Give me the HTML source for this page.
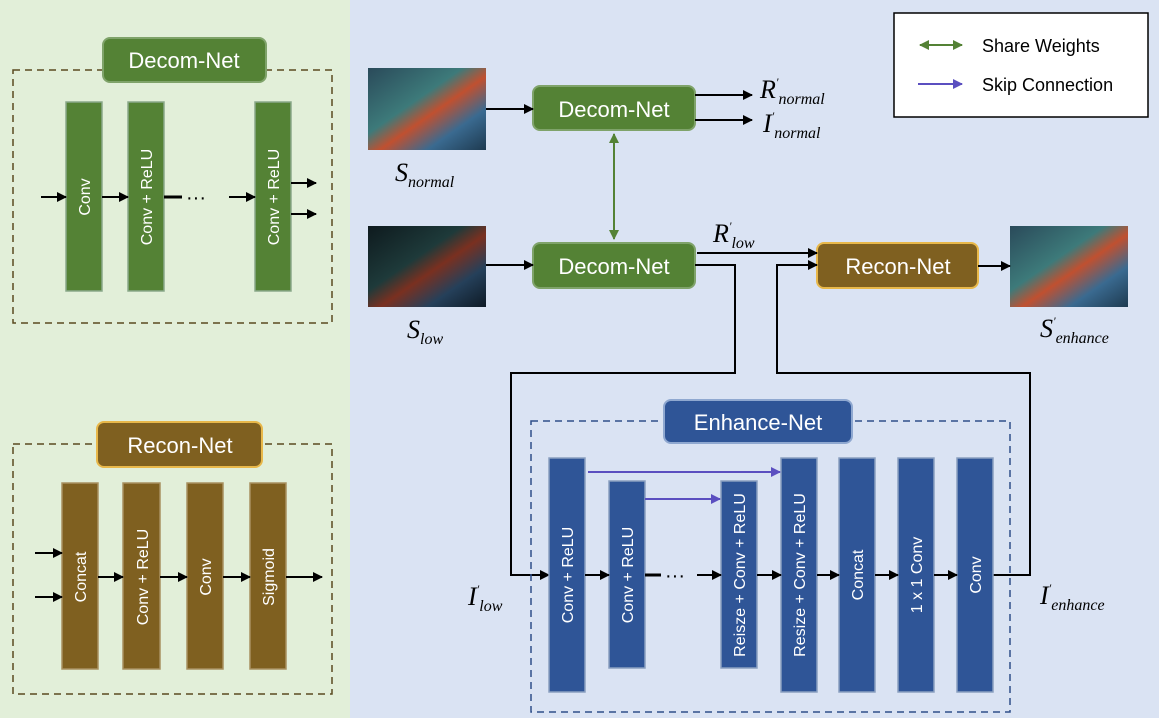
<!DOCTYPE html>
<html><head><style>body{margin:0}svg{display:block}</style></head><body>
<svg width="1159" height="718" viewBox="0 0 1159 718" xmlns="http://www.w3.org/2000/svg" font-family="Liberation Sans, Arial, sans-serif">
<defs>
<marker id="a" viewBox="0 0 10 10" refX="9" refY="5" markerWidth="5" markerHeight="5" orient="auto"><path d="M0,0L10,5L0,10z" fill="#000"/></marker>
<marker id="ab" viewBox="0 0 10 10" refX="9" refY="5" markerWidth="5" markerHeight="5" orient="auto"><path d="M0,0L10,5L0,10z" fill="#5b4fc0"/></marker>
<marker id="ag" viewBox="0 0 10 10" refX="9" refY="5" markerWidth="5" markerHeight="5" orient="auto-start-reverse"><path d="M0,0L10,5L0,10z" fill="#548235"/></marker>
<linearGradient id="img1" x1="0" y1="0" x2="1" y2="1"><stop offset="0" stop-color="#2a4a5a"/><stop offset="0.4" stop-color="#3d7a7a"/><stop offset="0.55" stop-color="#c05030"/><stop offset="0.75" stop-color="#3a6a90"/><stop offset="1" stop-color="#1e3a50"/></linearGradient>
<linearGradient id="img2" x1="0" y1="0" x2="1" y2="1"><stop offset="0" stop-color="#0e1a1e"/><stop offset="0.4" stop-color="#1e3a3a"/><stop offset="0.55" stop-color="#7a3020"/><stop offset="0.75" stop-color="#25405a"/><stop offset="1" stop-color="#0e1a25"/></linearGradient>
</defs>
<rect width="1159" height="718" fill="#dae3f3"/>
<rect width="350" height="718" fill="#e2efd9"/>

<!-- Left Decom -->
<rect x="13" y="70" width="319" height="253" fill="none" stroke="#5a4a20" stroke-width="1.5" stroke-dasharray="7,5"/>
<rect x="103" y="38" width="163" height="44" rx="7" fill="#548235" stroke="#7fa36a" stroke-width="2"/>
<text x="184" y="68" fill="#fff" font-size="22" text-anchor="middle">Decom-Net</text>
<g fill="#548235" stroke="#8aa88a" stroke-width="1.5">
<rect x="66" y="102" width="36" height="189"/><rect x="128" y="102" width="36" height="189"/><rect x="255" y="102" width="36" height="189"/></g>
<g fill="#fff" font-size="16" text-anchor="middle">
<text transform="translate(90,197) rotate(-90)">Conv</text>
<text transform="translate(152,197) rotate(-90)">Conv + ReLU</text>
<text transform="translate(279,197) rotate(-90)">Conv + ReLU</text></g>
<g stroke="#000" stroke-width="2" marker-end="url(#a)">
<line x1="41" y1="197" x2="66" y2="197"/><line x1="102" y1="197" x2="128" y2="197"/><line x1="229" y1="197" x2="255" y2="197"/>
<line x1="291" y1="183" x2="316" y2="183"/><line x1="291" y1="214" x2="316" y2="214"/></g>
<line x1="164" y1="197" x2="182" y2="197" stroke="#000" stroke-width="3"/>
<text x="186" y="204" font-size="20">···</text>

<!-- Left Recon -->
<rect x="13" y="444" width="319" height="250" fill="none" stroke="#5a4a20" stroke-width="1.5" stroke-dasharray="7,5"/>
<rect x="97" y="422" width="165" height="45" rx="7" fill="#7f6020" stroke="#e8b84a" stroke-width="2"/>
<text x="180" y="453" fill="#fff" font-size="22" text-anchor="middle">Recon-Net</text>
<g fill="#7f6020" stroke="#a89060" stroke-width="1.5">
<rect x="62" y="483" width="36" height="186"/><rect x="123" y="483" width="37" height="186"/><rect x="187" y="483" width="36" height="186"/><rect x="250" y="483" width="36" height="186"/></g>
<g fill="#fff" font-size="16" text-anchor="middle">
<text transform="translate(86,577) rotate(-90)">Concat</text>
<text transform="translate(148,577) rotate(-90)">Conv + ReLU</text>
<text transform="translate(211,577) rotate(-90)">Conv</text>
<text transform="translate(274,577) rotate(-90)">Sigmoid</text></g>
<g stroke="#000" stroke-width="2" marker-end="url(#a)">
<line x1="35" y1="553" x2="62" y2="553"/><line x1="35" y1="597" x2="62" y2="597"/>
<line x1="98" y1="577" x2="123" y2="577"/><line x1="160" y1="577" x2="187" y2="577"/><line x1="223" y1="577" x2="250" y2="577"/><line x1="286" y1="577" x2="322" y2="577"/></g>

<!-- Right top -->
<rect x="368" y="68" width="118" height="82" fill="url(#img1)"/>
<rect x="368" y="226" width="118" height="81" fill="url(#img2)"/>
<rect x="1010" y="226" width="118" height="81" fill="url(#img1)"/>
<g font-family="Liberation Serif, serif" font-style="italic">
<text x="395" y="181" font-size="26">S<tspan font-size="16" dy="6">normal</tspan></text>
<text x="407" y="338" font-size="26">S<tspan font-size="16" dy="6">low</tspan></text>
<text x="1040" y="337" font-size="26">S<tspan font-size="12" dy="-12">'</tspan><tspan font-size="16" dy="18">enhance</tspan></text>
<text x="760" y="98" font-size="26">R<tspan font-size="12" dy="-12">'</tspan><tspan font-size="16" dy="18">normal</tspan></text>
<text x="763" y="132" font-size="26">I<tspan font-size="12" dy="-12">'</tspan><tspan font-size="16" dy="18">normal</tspan></text>
<text x="713" y="242" font-size="26">R<tspan font-size="12" dy="-12">'</tspan><tspan font-size="16" dy="18">low</tspan></text>
<text x="468" y="605" font-size="26">I<tspan font-size="12" dy="-12">'</tspan><tspan font-size="16" dy="18">low</tspan></text>
<text x="1040" y="604" font-size="26">I<tspan font-size="12" dy="-12">'</tspan><tspan font-size="16" dy="18">enhance</tspan></text>
</g>
<rect x="533" y="86" width="162" height="44" rx="7" fill="#548235" stroke="#7fa36a" stroke-width="2"/>
<text x="614" y="117" fill="#fff" font-size="22" text-anchor="middle">Decom-Net</text>
<rect x="533" y="243" width="162" height="45" rx="7" fill="#548235" stroke="#7fa36a" stroke-width="2"/>
<text x="614" y="274" fill="#fff" font-size="22" text-anchor="middle">Decom-Net</text>
<rect x="817" y="243" width="161" height="45" rx="7" fill="#7f6020" stroke="#e8b84a" stroke-width="2"/>
<text x="898" y="274" fill="#fff" font-size="22" text-anchor="middle">Recon-Net</text>
<line x1="614" y1="134" x2="614" y2="239" stroke="#548235" stroke-width="2" marker-start="url(#ag)" marker-end="url(#ag)"/>
<g stroke="#000" stroke-width="2" fill="none">
<line x1="486" y1="109" x2="533" y2="109" marker-end="url(#a)"/>
<line x1="486" y1="265" x2="533" y2="265" marker-end="url(#a)"/>
<line x1="695" y1="95" x2="752" y2="95" marker-end="url(#a)"/>
<line x1="695" y1="120" x2="752" y2="120" marker-end="url(#a)"/>
<line x1="697" y1="253" x2="817" y2="253" marker-end="url(#a)"/>
<polyline points="695,265 735,265 735,373 511,373 511,575 549,575" marker-end="url(#a)"/>
<polyline points="993,575 1030,575 1030,373 777,373 777,265 817,265" marker-end="url(#a)"/>
<line x1="978" y1="266" x2="1010" y2="266" marker-end="url(#a)"/>
</g>

<!-- Enhance -->
<rect x="531" y="421" width="479" height="291" fill="none" stroke="#2f4f8a" stroke-width="1.5" stroke-dasharray="7,5"/>
<rect x="664" y="400" width="188" height="43" rx="7" fill="#2f5597" stroke="#8fa8d0" stroke-width="2"/>
<text x="758" y="430" fill="#fff" font-size="22" text-anchor="middle">Enhance-Net</text>
<g fill="#2f5597" stroke="#8aa0c0" stroke-width="1.5">
<rect x="549" y="458" width="36" height="234"/><rect x="609" y="481" width="36" height="187"/><rect x="721" y="481" width="36" height="187"/>
<rect x="781" y="458" width="36" height="234"/><rect x="839" y="458" width="36" height="234"/><rect x="898" y="458" width="36" height="234"/><rect x="957" y="458" width="36" height="234"/></g>
<g fill="#fff" font-size="16" text-anchor="middle">
<text transform="translate(573,575) rotate(-90)">Conv + ReLU</text>
<text transform="translate(633,575) rotate(-90)">Conv + ReLU</text>
<text transform="translate(745,575) rotate(-90)">Reisze + Conv + ReLU</text>
<text transform="translate(805,575) rotate(-90)">Resize + Conv + ReLU</text>
<text transform="translate(863,575) rotate(-90)">Concat</text>
<text transform="translate(922,575) rotate(-90)">1 x 1 Conv</text>
<text transform="translate(981,575) rotate(-90)">Conv</text></g>
<g stroke="#000" stroke-width="2" marker-end="url(#a)">
<line x1="585" y1="575" x2="609" y2="575"/><line x1="697" y1="575" x2="721" y2="575"/><line x1="757" y1="575" x2="781" y2="575"/>
<line x1="817" y1="575" x2="839" y2="575"/><line x1="875" y1="575" x2="898" y2="575"/><line x1="934" y1="575" x2="957" y2="575"/></g>
<line x1="645" y1="575" x2="661" y2="575" stroke="#000" stroke-width="3"/>
<text x="665" y="582" font-size="20">···</text>
<g stroke="#5b4fc0" stroke-width="2" marker-end="url(#ab)">
<line x1="588" y1="472" x2="780" y2="472"/><line x1="645" y1="499" x2="720" y2="499"/></g>

<!-- Legend -->
<rect x="894" y="13" width="254" height="104" fill="#fff" stroke="#000" stroke-width="1.5"/>
<line x1="920" y1="45" x2="962" y2="45" stroke="#548235" stroke-width="2" marker-start="url(#ag)" marker-end="url(#ag)"/>
<line x1="918" y1="84" x2="962" y2="84" stroke="#5b4fc0" stroke-width="2" marker-end="url(#ab)"/>
<text x="982" y="52" font-size="18">Share Weights</text>
<text x="982" y="91" font-size="18">Skip Connection</text>
</svg>
</body></html>
